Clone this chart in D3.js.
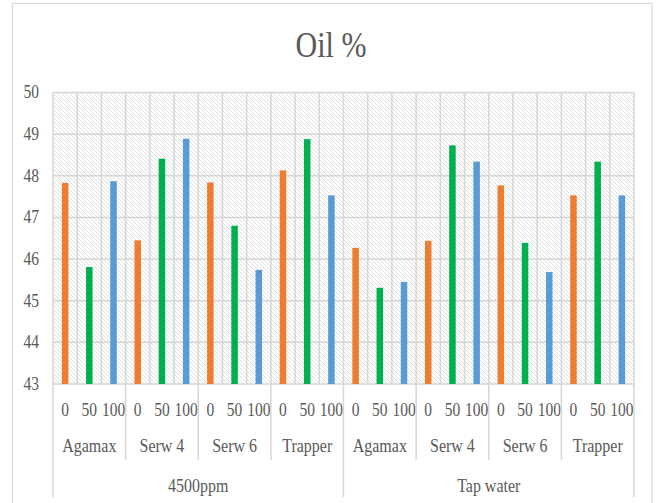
<!DOCTYPE html>
<html>
<head>
<meta charset="utf-8">
<script src="https://cdn.jsdelivr.net/npm/d3@7/dist/d3.min.js"></script>
<style>
  html, body { margin: 0; padding: 0; background: #fff; }
  svg { display: block; }
</style>
</head>
<body>
<svg id="chart" width="656" height="503"></svg>
<script>
// Oil content (%) by water type, cultivar and dose
const groups = ["4500ppm", "Tap water"];
const cultivars = ["Agamax", "Serw 4", "Serw 6", "Trapper"];
const doses = ["0", "50", "100"];
const oil4500 = [
  [47.83, 45.81, 47.87],
  [46.45, 48.41, 48.89],
  [47.84, 46.80, 45.74],
  [48.13, 48.88, 47.53]
];
const oilTap = [
  [46.27, 45.31, 45.45],
  [46.44, 48.73, 48.34],
  [47.77, 46.39, 45.69],
  [47.53, 48.34, 47.53]
];
const yTicks = [43, 44, 45, 46, 47, 48, 49, 50];
const doseColors = ["#ED7D31", "#00B050", "#5B9BD5"];

const seriesByGroup = [oil4500, oilTap];
const rows = [];
groups.forEach((g, gi) => {
  cultivars.forEach((c, ci) => {
    doses.forEach((d, di) => {
      rows.push({ key: g + "|" + c + "|" + d, group: g, cultivar: c, dose: d, di, value: seriesByGroup[gi][ci][di] });
    });
  });
});

const svg = d3.select("#chart");
const plotL = 53, plotR = 634, plotT = 92.5, plotB = 384;
const textStretch = 1.18;
const textColor = "#595959";
const serif = "Liberation Serif";

const x = d3.scaleBand().domain(rows.map(r => r.key)).range([plotL, plotR]).padding(0);
const y = d3.scaleLinear().domain([43, 50]).range([plotB, plotT]);

// outer chart frame
svg.append("rect")
  .attr("x", 12.5).attr("y", 3.5).attr("width", 639.5).attr("height", 520)
  .attr("fill", "none").attr("stroke", "#d9d9d9").attr("stroke-width", 1.2);

// diagonal hatch fill of the plot area
const defs = svg.append("defs");
const pat = defs.append("pattern")
  .attr("id", "hatch").attr("patternUnits", "userSpaceOnUse")
  .attr("width", 4).attr("height", 4);
pat.append("rect").attr("width", 4).attr("height", 4).attr("fill", "#ffffff");
pat.append("path")
  .attr("d", "M-1,-1 L5,5 M-1,3 L1,5 M3,-1 L5,1")
  .attr("stroke", "#dddddd").attr("stroke-width", 0.9);

svg.append("rect")
  .attr("x", plotL).attr("y", plotT).attr("width", plotR - plotL).attr("height", plotB - plotT)
  .attr("fill", "url(#hatch)");

// gridlines
const grid = svg.append("g").attr("stroke", "#d6d6d6").attr("stroke-width", 1.5);
grid.selectAll("line.h").data(yTicks).join("line")
  .attr("class", "h")
  .attr("x1", plotL).attr("x2", plotR)
  .attr("y1", d => y(d)).attr("y2", d => y(d));
const bounds = rows.map(r => x(r.key)).concat([plotR]);
grid.selectAll("line.v").data(bounds).join("line")
  .attr("class", "v")
  .attr("x1", d => d).attr("x2", d => d)
  .attr("y1", plotT).attr("y2", plotB);

// bars
const barW = 6.5;
svg.append("g").selectAll("rect").data(rows).join("rect")
  .attr("x", d => x(d.key) + x.bandwidth() / 2 - barW / 2)
  .attr("width", barW)
  .attr("y", d => y(d.value))
  .attr("height", d => y(43) - y(d.value))
  .attr("fill", d => doseColors[d.di]);

// helper for vertically stretched serif labels
function label(sel, tx, ty, str, size, anchor) {
  sel.append("text")
    .attr("transform", `translate(${tx},${ty}) scale(1,${textStretch})`)
    .attr("text-anchor", anchor || "middle")
    .attr("dominant-baseline", "central")
    .attr("font-family", serif)
    .attr("font-size", size)
    .attr("fill", textColor)
    .text(str);
}

// y axis labels
const yAxisG = svg.append("g");
yTicks.forEach(t => label(yAxisG, 39, y(t), t, 15.5, "end"));

// hierarchical category axis
const axG = svg.append("g");
rows.forEach(r => label(axG, x(r.key) + x.bandwidth() / 2, 410, r.dose, 15.5));

const sep = svg.append("g").attr("stroke", "#d6d6d6").attr("stroke-width", 1.5);
const perGroup = cultivars.length * doses.length;
groups.forEach((g, gi) => {
  cultivars.forEach((c, ci) => {
    const k0 = rows[gi * perGroup + ci * doses.length].key;
    const k2 = rows[gi * perGroup + ci * doses.length + doses.length - 1].key;
    const x0 = x(k0), x1 = x(k2) + x.bandwidth();
    label(axG, (x0 + x1) / 2, 446, c, 16);
    if (ci > 0) {
      sep.append("line").attr("x1", x0).attr("x2", x0).attr("y1", plotB).attr("y2", 460);
    }
  });
  const gx0 = x(rows[gi * perGroup].key);
  const gx1 = x(rows[gi * perGroup + perGroup - 1].key) + x.bandwidth();
  label(axG, (gx0 + gx1) / 2, 486, g, 16);
  sep.append("line").attr("x1", gx0).attr("x2", gx0).attr("y1", plotB).attr("y2", 497);
  if (gi === groups.length - 1) {
    sep.append("line").attr("x1", gx1).attr("x2", gx1).attr("y1", plotB).attr("y2", 497);
  }
});

// title
svg.append("text")
  .attr("transform", `translate(331,44) scale(1,1.22)`)
  .attr("text-anchor", "middle")
  .attr("dominant-baseline", "central")
  .attr("font-family", serif)
  .attr("font-size", 30)
  .attr("fill", textColor)
  .text("Oil %");
</script>
</body>
</html>
